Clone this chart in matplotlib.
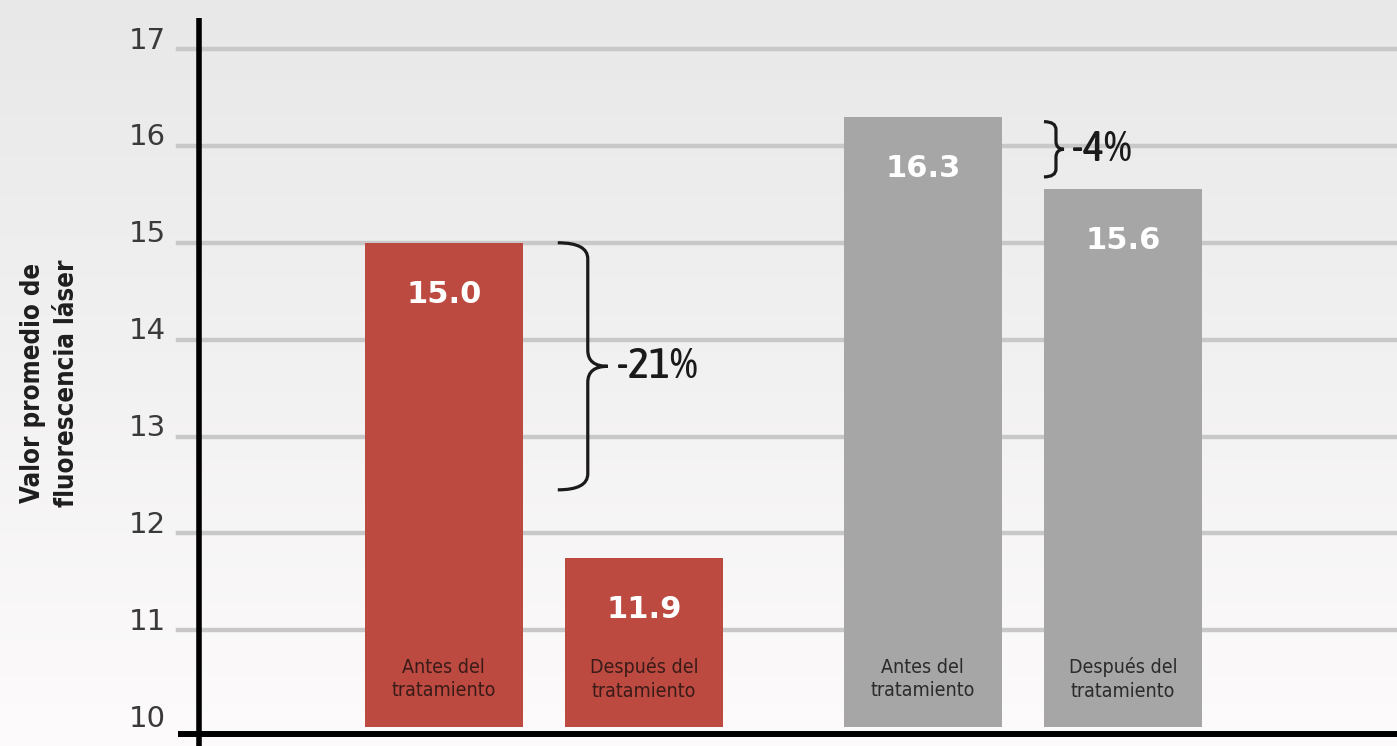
import os
import numpy as np
import matplotlib
matplotlib.use("Agg")
import matplotlib.pyplot as plt
from matplotlib import font_manager as fm
from matplotlib.font_manager import FontProperties
from matplotlib.path import Path
from matplotlib.patches import PathPatch
from matplotlib.transforms import ScaledTranslation, IdentityTransform

# ---------------- data ----------------
groups = ["grupo 1", "grupo 2"]
categories = ["Antes del\ntratamiento", "Después del\ntratamiento"]
values_red = [15.0, 11.75]
values_gray = [16.3, 15.55]
value_labels_red = ["15.0", "11.9"]
value_labels_gray = ["16.3", "15.6"]
change_labels = ["-21%", "-4%"]
brace_spans = [(15.0, 12.45), (16.25, 15.68)]
yticks = [10, 11, 12, 13, 14, 15, 16, 17]
ylabel = "Valor promedio de\nfluorescencia láser"

# ---------------- fonts ----------------
plt.rcParams["font.family"] = ["DejaVu Sans"]


def _w(f):
    w = f.weight
    if isinstance(w, str):
        w = fm.weight_dict.get(w, 400)
    return int(w)


def find_condensed(target_weight):
    best = None
    for f in fm.fontManager.ttflist:
        fn = os.path.basename(f.fname).lower()
        if not ("condensed" in fn or "narrow" in fn):
            continue
        if any(k in fn for k in ("extra", "ultra", "italic", "oblique", "mono", "serif", "display", "ui")):
            continue
        if f.style != "normal":
            continue
        score = abs(_w(f) - target_weight)
        if "semi" in fn:
            score += 150
        if "noto" in fn:
            score -= 20
        if best is None or score < best[0]:
            best = (score, f.fname)
    return best[1] if best else None


def fp(size, target_weight=400):
    fname = find_condensed(target_weight)
    if fname:
        return FontProperties(fname=fname, size=size)
    return FontProperties(family="DejaVu Sans", size=size,
                          weight="bold" if target_weight >= 600 else "normal")


W, H, DPI = 13.97, 7.46, 100
fig = plt.figure(figsize=(W, H), dpi=DPI)

# background gradient
bg = fig.add_axes([0, 0, 1, 1], zorder=-10)
grad = np.linspace(0, 1, 256).reshape(-1, 1)
top = np.array([0.910, 0.910, 0.910])
bot = np.array([0.992, 0.984, 0.984])
img = top[None, None, :] * (1 - grad[..., None]) + bot[None, None, :] * grad[..., None]
bg.imshow(img, aspect="auto", extent=[0, 1, 0, 1], origin="upper")
bg.set_axis_off()

left = 199 / 1397
ax = fig.add_axes([left, 12 / 746, 1 - left, (734 - 18) / 746])
ax.set_facecolor("none")
ax.set_ylim(9.93, 17.32)
ax.set_xlim(-0.720, 1.781)

red = "#bd4a41"
gray = "#a6a6a6"
grid_c = "#c8c8c8"

# gridlines (extending slightly left of the axis)
for y in yticks[1:]:
    ax.axhline(y, xmin=-0.0175, xmax=1, color=grid_c, lw=3.2, zorder=0, clip_on=False)

off = 0.209
bw = 0.33
x_red = [0 - off, 0 + off]
x_gray = [1 - off, 1 + off]
ax.bar(x_red, [v - 10 for v in values_red], bottom=10, width=bw, color=red, zorder=2)
ax.bar(x_gray, [v - 10 for v in values_gray], bottom=10, width=bw, color=gray, zorder=2)

# value labels
for xs, vs, ls in [(x_red, values_red, value_labels_red), (x_gray, values_gray, value_labels_gray)]:
    for x, v, l in zip(xs, vs, ls):
        ax.annotate(l, (x, v), xytext=(0, -37), textcoords="offset points",
                    ha="center", va="center", color="white", fontsize=22,
                    fontweight="bold", zorder=3)

# category labels inside bars
cat_fp = fp(14, 400)
for xs, tc in [(x_red, "#3a1b18"), (x_gray, "#2b2b2b")]:
    for x, c in zip(xs, categories):
        ax.text(x, 10.5, c, ha="center", va="center", fontproperties=cat_fp, color=tc,
                linespacing=1.3, zorder=3)

# spines
for s in ax.spines.values():
    s.set_visible(False)
ax.plot([0, 0], [9.80, 17.32], transform=ax.get_yaxis_transform(), color="black",
        lw=4, clip_on=False, zorder=5, solid_capstyle="butt")
ax.plot([-0.0175, 1], [0, 0], transform=ax.transAxes, color="black", lw=4.3,
        clip_on=False, zorder=5, solid_capstyle="butt")

ax.set_xticks([])
ax.set_yticks(yticks)
ax.set_yticklabels([str(t) for t in yticks])
ax.tick_params(axis="y", length=0, pad=24, labelsize=21, labelcolor="#3a3a3a")
for lab in ax.get_yticklabels():
    lab.set_transform(lab.get_transform() + ScaledTranslation(0, 0.115, fig.dpi_scale_trans))

fig.text(50 / 1397, 1 - 383 / 746, ylabel, rotation=90, ha="center", va="center",
         multialignment="center", fontproperties=fp(18.5, 600), color="#1e1e1e",
         linespacing=1.45)

# braces
pct_fp = fp(32, 500)


def brace(x_left_data, y_top, y_bot, width_px, r_px, label, text_gap_px):
    fig.canvas.draw()
    tr = ax.transData
    x0, yt = tr.transform((x_left_data, y_top))
    _, yb = tr.transform((x_left_data, y_bot))
    ym = (yt + yb) / 2
    xs = x0 + width_px * 0.6
    xt = x0 + width_px
    verts = [(x0, yt), (xs, yt), (xs, yt - r_px),
             (xs, ym + r_px), (xs, ym), (xt, ym),
             (xs, ym), (xs, ym - r_px),
             (xs, yb + r_px), (xs, yb), (x0, yb)]
    codes = [Path.MOVETO, Path.CURVE3, Path.CURVE3,
             Path.LINETO, Path.CURVE3, Path.CURVE3,
             Path.CURVE3, Path.CURVE3,
             Path.LINETO, Path.CURVE3, Path.CURVE3]
    p = PathPatch(Path(verts, codes), transform=IdentityTransform(), fill=False,
                  lw=2.3, edgecolor="#1a1a1a", zorder=6, clip_on=False)
    fig.add_artist(p)
    xd, yd = fig.transFigure.inverted().transform((xt + text_gap_px, ym))
    fig.text(xd, yd, label, ha="left", va="center", fontproperties=pct_fp, color="#1a1a1a")


brace(x_red[1] - bw / 2 - 0.015, brace_spans[0][0], brace_spans[0][1], 50, 16, change_labels[0], 9)
brace(x_gray[1] - bw / 2, brace_spans[1][0], brace_spans[1][1], 20, 8, change_labels[1], 8)

fig.savefig("out.png", dpi=DPI)
